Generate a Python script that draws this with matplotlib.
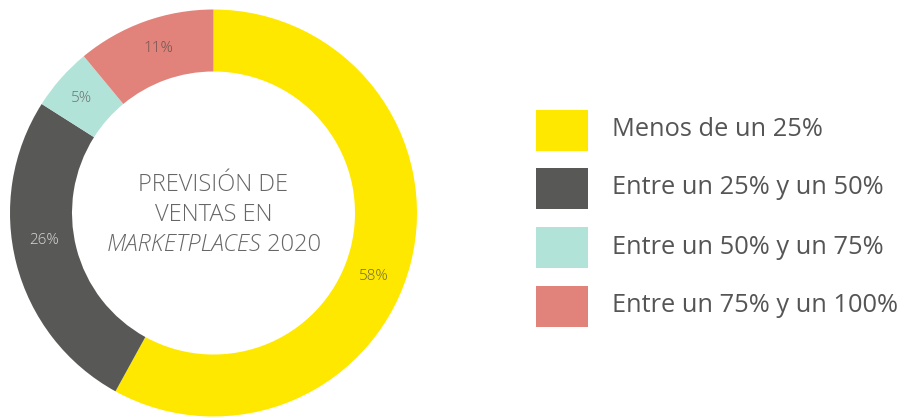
import matplotlib
matplotlib.use("Agg")
import matplotlib.pyplot as plt
from matplotlib.patches import Rectangle

# data
labels = ["Menos de un 25%", "Entre un 25% y un 50%", "Entre un 50% y un 75%", "Entre un 75% y un 100%"]
values = [58, 26, 5, 11]
colors = ["#FFE800", "#585856", "#B2E3D8", "#E2837B"]
pct_colors = ["#6f6a3c", "#d8d8d8", "#6a7572", "#6e5350"]

W, H = 909, 418
fig = plt.figure(figsize=(W / 100, H / 100), dpi=100)

# donut axes, placed in pixels
cx, cy, R = 213.5, 213, 203.5
ax = fig.add_axes([(cx - R) / W, (H - cy - R) / H, 2 * R / W, 2 * R / H])
ring = 62 / R
wedges, texts, autotexts = ax.pie(
    values, colors=colors, startangle=90, counterclock=False, radius=1,
    wedgeprops=dict(width=ring, linewidth=0),
    autopct=lambda p: "%d%%" % round(p), pctdistance=1 - ring / 2,
    textprops=dict(family="Open Sans", weight="light", fontsize=11),
)
# labels in the original sit a bit off the wedge middles
label_px = [(374, 277), (44, 240), (81, 99), (158, 48)]
for t, c, (px, py) in zip(autotexts, pct_colors, label_px):
    t.set_color(c)
    t.set_position(((px - cx) / R, (cy - py) / R))
ax.set_xlim(-1, 1)
ax.set_ylim(-1, 1)
ax.axis("off")

# center title
font = dict(fontsize=17, family="Open Sans", weight="light", color="#666666")
ax.text(0, 0.138, "PREVISIÓN DE", ha="center", va="center", **font)
ax.text(0, -0.01, "VENTAS EN", ha="center", va="center", **font)
t1 = ax.text(0.53, -0.157, " 2020", ha="right", va="center", **font)
fig.canvas.draw()
bb = t1.get_window_extent()
x_left = ax.transData.inverted().transform((bb.x0, bb.y0))[0]
ax.text(x_left, -0.157, "MARKETPLACES", ha="right", va="center", style="italic", **font)

# legend
rows_y = [130, 188, 247, 306]
for lab, col, y in zip(labels, colors, rows_y):
    fig.add_artist(Rectangle((536 / W, (H - y - 20.5) / H), 52 / W, 41 / H,
                             transform=fig.transFigure, color=col, lw=0))
    fig.text(612 / W, (H - y) / H, lab, ha="left", va="center", fontsize=18.3,
             family="Open Sans", color="#555555")

fig.savefig("out.png", dpi=100)
